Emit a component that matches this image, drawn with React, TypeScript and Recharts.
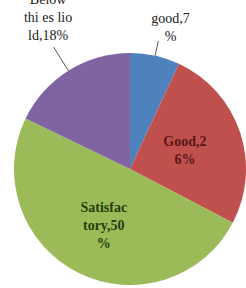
import { Pie, PieChart, Cell } from 'recharts';

const CATEGORIES = ['good', 'Good', 'Satisfactory', 'Below threshold'];
const VALUES = [7, 26, 50, 18];
// label text as printed on the chart, one entry per line
const LABEL_LINES = [
  ['good,7', '%'],
  ['Good,2', '6%'],
  ['Satisfac', 'tory,50', '%'],
  ['Below', 'thi es lio', 'ld,18%'],
];
const COLORS = ['#4f81bd', '#c0504d', '#9bbb59', '#8064a2'];

// label placement relative to the outer radius, plus a small angle nudge (deg)
const LABEL_RADIUS = [1.27, 0.5, 0.53, 1.49];
const LABEL_NUDGE = [-3.5, 0, 1.5, -3.8];
const LEADER_END = [1.13, 0, 0, 1.24];
const LABEL_COLORS = ['#222222', '#5a1616', '#243f0c', '#222222'];
const LABEL_BOLD = [false, true, true, false];

const data = CATEGORIES.map((name, i) => ({ name, value: VALUES[i] }));

const RAD = Math.PI / 180;
const LINE_H = 18;
const FONT = '"Liberation Serif", "DejaVu Serif", serif';

interface LabelProps {
  cx: number;
  cy: number;
  midAngle: number;
  outerRadius: number;
  index: number;
}

function renderLabel({ cx, cy, midAngle, outerRadius, index }: LabelProps) {
  const angle = (midAngle + LABEL_NUDGE[index]) * RAD;
  const r = outerRadius * LABEL_RADIUS[index];
  const x = cx + r * Math.cos(angle);
  const y = cy - r * Math.sin(angle);
  const lines = LABEL_LINES[index];
  const top = y - ((lines.length - 1) * LINE_H) / 2;
  const lead = LEADER_END[index];
  const m = midAngle * RAD;
  return (
    <g key={`lbl-${index}`}>
      {lead > 0 ? (
        <line
          x1={cx + outerRadius * Math.cos(m)}
          y1={cy - outerRadius * Math.sin(m)}
          x2={cx + outerRadius * lead * Math.cos(m)}
          y2={cy - outerRadius * lead * Math.sin(m)}
          stroke="#555"
          strokeWidth={1}
        />
      ) : null}
      <text
        x={x}
        y={top}
        textAnchor="middle"
        dominantBaseline="central"
        fill={LABEL_COLORS[index]}
        style={{
          fontFamily: FONT,
          fontSize: 14,
          fontWeight: LABEL_BOLD[index] ? 700 : 400,
        }}
      >
        {lines.map((line, i) => (
          <tspan key={i} x={x} dy={i === 0 ? 0 : LINE_H}>
            {line}
          </tspan>
        ))}
      </text>
    </g>
  );
}

export default function App() {
  return (
    <div
      style={{
        position: 'absolute',
        left: 0,
        top: 0,
        width: 246,
        height: 288,
        background: '#fff',
        fontFamily: FONT,
      }}
    >
      <PieChart width={246} height={288} margin={{ top: 0, right: 0, bottom: 0, left: 0 }}>
        <Pie
          data={data}
          dataKey="value"
          nameKey="name"
          cx={130}
          cy={169}
          outerRadius={116}
          startAngle={90}
          endAngle={-270}
          stroke="none"
          label={renderLabel as any}
          labelLine={false}
          isAnimationActive={false}
        >
          {data.map((d, i) => (
            <Cell key={d.name} fill={COLORS[i]} />
          ))}
        </Pie>
      </PieChart>
    </div>
  );
}
